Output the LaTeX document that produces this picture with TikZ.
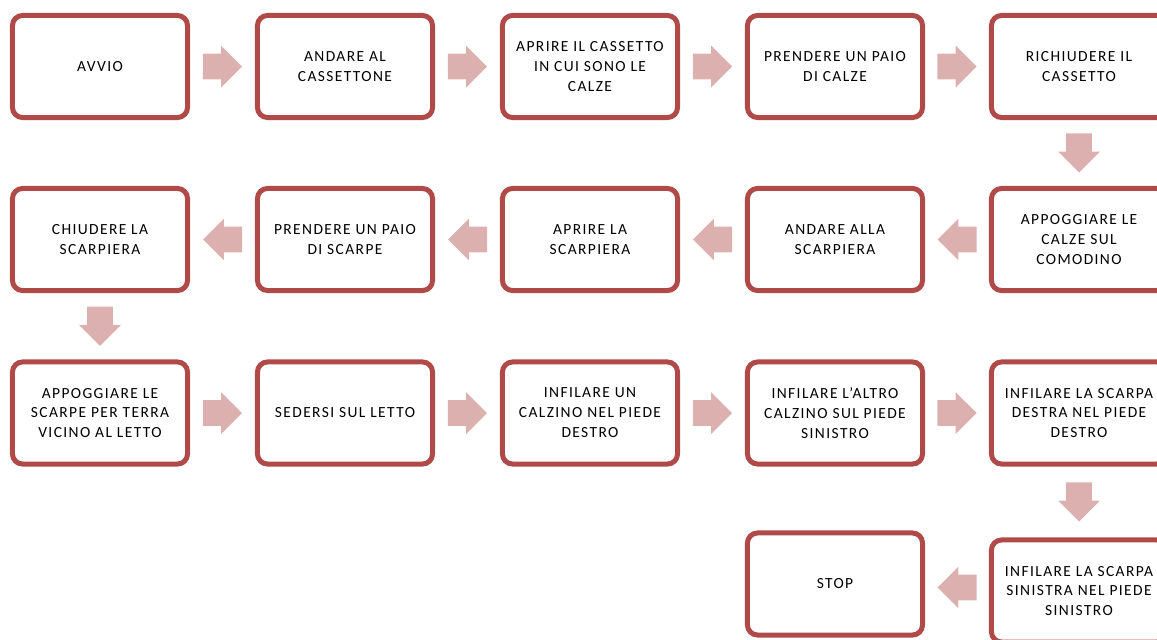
\documentclass[tikz,border=0pt]{standalone}
\usepackage{fontspec}
\setmainfont{Carlito}[LetterSpace=9]
\usepackage{xcolor}
\usetikzlibrary{shapes.arrows}
\definecolor{boxred}{RGB}{176,74,72}
\definecolor{arrowpink}{RGB}{221,176,176}
\tikzset{
	stepbox/.style={draw=boxred, line width=0.125cm, rounded corners=0.25cm, fill=white,
		minimum width=4.375cm, minimum height=2.55cm, inner sep=0pt, align=center,
		font=\fontsize{11}{14.2}\selectfont},
	blockarrow/.style={single arrow, fill=arrowpink, draw=none, inner xsep=0pt,
		inner ysep=0.3125cm, minimum height=0.975cm, single arrow head extend=0.2cm,
		single arrow tip angle=90}
}

\begin{document}
\begin{tikzpicture}[x=0.025cm,y=-0.025cm]
		% area visibile
		\useasboundingbox (0,0) rectangle (1157,639);
		\clip (0,0) rectangle (1157,639);
		
		% prima riga
		\node[stepbox] (avvio) at (100,66.5) {AVVIO};
		\node[stepbox] (cassettone) at (345,66.5) {ANDARE AL\\CASSETTONE};
		\node[stepbox] (apricassetto) at (590,66.5) {APRIRE IL CASSETTO\\IN CUI SONO LE\\CALZE};
		\node[stepbox] (prendicalze) at (835,66.5) {PRENDERE UN PAIO\\DI CALZE};
		\node[stepbox] (richiudi) at (1079,66.5) {RICHIUDERE IL\\CASSETTO};
		
		% seconda riga
		\node[stepbox] (comodino) at (1079,239.5) {APPOGGIARE LE\\CALZE SUL\\COMODINO};
		\node[stepbox] (vaiscarpiera) at (835,239.5) {ANDARE ALLA\\SCARPIERA};
		\node[stepbox] (apriscarpiera) at (590,239.5) {APRIRE LA\\SCARPIERA};
		\node[stepbox] (prendiscarpe) at (345,239.5) {PRENDERE UN PAIO\\DI SCARPE};
		\node[stepbox] (chiudiscarpiera) at (100,239.5) {CHIUDERE LA\\SCARPIERA};
		
		% terza riga
		\node[stepbox] (scarpeterra) at (100,413) {APPOGGIARE LE\\SCARPE PER TERRA\\VICINO AL LETTO};
		\node[stepbox] (sedersi) at (345,413) {SEDERSI SUL LETTO};
		\node[stepbox] (calzinodx) at (590,413) {INFILARE UN\\CALZINO NEL PIEDE\\DESTRO};
		\node[stepbox] (calzinosx) at (835,413) {INFILARE L'ALTRO\\CALZINO SUL PIEDE\\SINISTRO};
		\node[stepbox] (scarpadx) at (1079,413) {INFILARE LA SCARPA\\DESTRA NEL PIEDE\\DESTRO};
		
		% quarta riga
		\node[stepbox] (scarpasx) at (1079,591) {INFILARE LA SCARPA\\SINISTRA NEL PIEDE\\SINISTRO};
		\node[stepbox] (stop) at (835,584) {STOP};
		
		% frecce a blocco
		\foreach \a/\b/\r in {avvio/cassettone/0, cassettone/apricassetto/0,
			apricassetto/prendicalze/0, prendicalze/richiudi/0, richiudi/comodino/-90,
			comodino/vaiscarpiera/180, vaiscarpiera/apriscarpiera/180,
			apriscarpiera/prendiscarpe/180, prendiscarpe/chiudiscarpiera/180,
			chiudiscarpiera/scarpeterra/-90, scarpeterra/sedersi/0, sedersi/calzinodx/0,
			calzinodx/calzinosx/0, calzinosx/scarpadx/0, scarpadx/scarpasx/-90,
			scarpasx/stop/180}
		\path (\a) -- (\b) node[midway, blockarrow, rotate=\r, xshift=-0.16cm] {};
	\end{tikzpicture}
\end{document}
